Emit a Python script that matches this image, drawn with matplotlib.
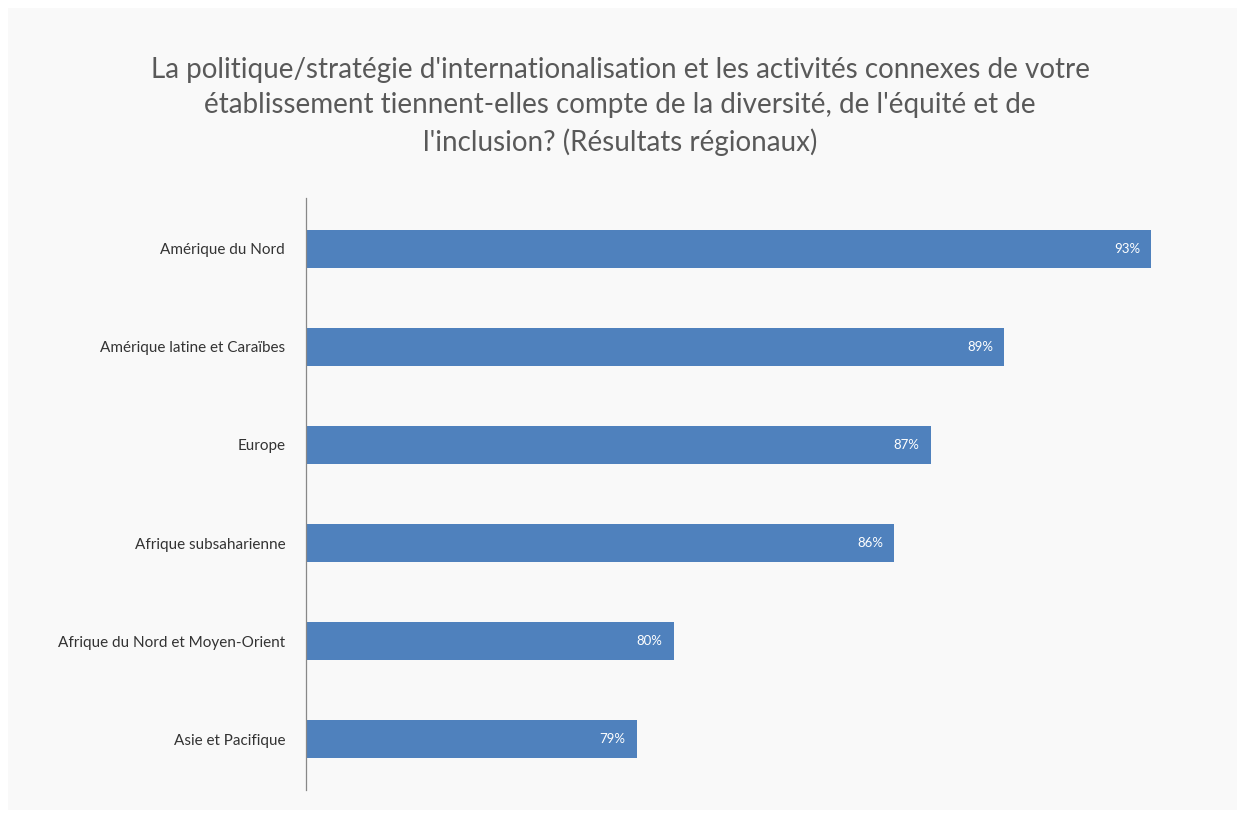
import matplotlib.pyplot as plt
from matplotlib.patches import Rectangle

# Données
regions = ['Amérique du Nord', 'Amérique latine et Caraïbes', 'Europe',
           'Afrique subsaharienne', 'Afrique du Nord et Moyen-Orient', 'Asie et Pacifique']
valeurs = [93, 89, 87, 86, 80, 79]

titre = ("La politique/stratégie d'internationalisation et les activités connexes de votre\n"
         "établissement tiennent-elles compte de la diversité, de l'équité et de\n"
         "l'inclusion? (Résultats régionaux)")

W, H = 1245, 818
fig = plt.figure(figsize=(W / 100, H / 100), dpi=100, facecolor='white')
fig.patches.append(Rectangle((8 / W, 8 / H), 1 - 16 / W, 1 - 16 / H,
                             transform=fig.transFigure, facecolor='#f9f9f9',
                             edgecolor='none', zorder=-1))

ax = fig.add_axes([306 / W, 1 - 790 / H, 882 / W, 592 / H])
ax.set_facecolor('none')

y = list(range(len(regions)))
bars = ax.barh(y, valeurs, height=0.39, color='#4f81bd', left=0)
ax.set_xlim(70, 94)
ax.set_ylim(len(regions) - 0.48, -0.52)

for b, v in zip(bars, valeurs):
    ax.text(v - 0.3, b.get_y() + b.get_height() / 2, f'{v}%', ha='right', va='center',
            color='white', fontsize=9.5, family='Lato')

ax.set_yticks(y)
ax.set_yticklabels(regions, fontsize=11, family='Lato', color='#333333')
ax.tick_params(axis='y', length=0, pad=15)
ax.set_xticks([])
for s in ['top', 'right', 'bottom']:
    ax.spines[s].set_visible(False)
ax.spines['left'].set_color('#888888')
ax.spines['left'].set_linewidth(0.9)

fig.text(0.498, 1 - 57 / H, titre, ha='center', va='top', fontsize=20, family='Lato',
         color='#595959', linespacing=1.45)

fig.savefig('out.png', dpi=100, facecolor=fig.get_facecolor())
